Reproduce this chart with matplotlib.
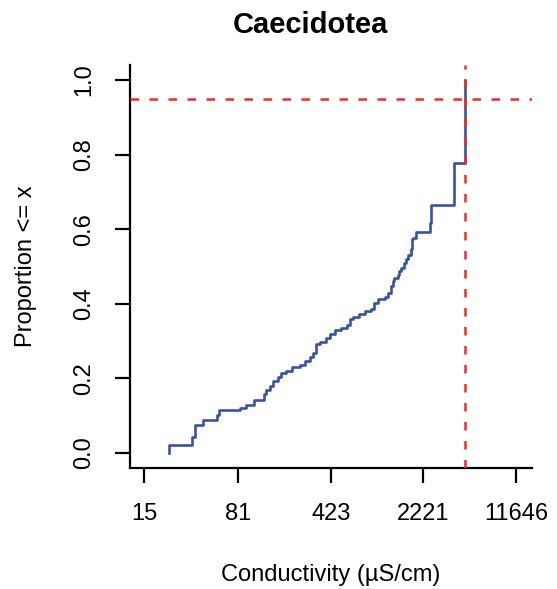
import matplotlib
matplotlib.use('Agg')
import matplotlib.pyplot as plt

cond = [23.6, 35.1, 37.3, 43.3, 54.9, 57.2, 84.2, 92.6, 107.5, 128.5,
        134, 142, 151, 165, 175, 190, 212, 243, 266, 290,
        308, 327, 347, 391, 415, 454, 511, 569, 600, 629,
        700, 775, 873, 926, 983, 1120, 1175, 1247, 1285, 1324,
        1405, 1447, 1491, 1582, 1630, 1680, 1782, 1815, 1858, 1949,
        2502, 2563, 3863, 4700]
prop = [0.022, 0.042, 0.076, 0.089, 0.103, 0.115, 0.121, 0.130, 0.143, 0.157,
        0.170, 0.181, 0.192, 0.204, 0.215, 0.219, 0.231, 0.237, 0.248, 0.257,
        0.268, 0.293, 0.297, 0.309, 0.320, 0.329, 0.335, 0.344, 0.360, 0.364,
        0.373, 0.380, 0.386, 0.403, 0.413, 0.418, 0.429, 0.447, 0.461, 0.470,
        0.476, 0.488, 0.497, 0.510, 0.521, 0.530, 0.546, 0.573, 0.577, 0.592,
        0.617, 0.666, 0.777, 1.0]

q95_x = 4700
q95_y = 0.95

xticks = [15, 81, 423, 2221, 11646]
yticks = [0.0, 0.2, 0.4, 0.6, 0.8, 1.0]

plt.rcParams['font.family'] = ['Liberation Sans', 'DejaVu Sans']

W, H = 557, 589
fig = plt.figure(figsize=(W / 100, H / 100), dpi=100)
ax = fig.add_axes([130 / W, 1 - 468 / H, 402 / W, 403 / H])

ax.plot([cond[0]] + cond, [0.0] + prop, drawstyle='steps-post',
        color='#3953a4', lw=1.9, zorder=2)
ax.axvline(q95_x, color='#f22a2a', lw=1.8, dashes=(3.4, 4.2), zorder=3)
ax.axhline(q95_y, color='#f22a2a', lw=1.8, dashes=(3.4, 4.2), zorder=3)

ax.set_xscale('log')
ax.set_xlim(10 ** 1.0675, 10 ** 4.19)
ax.set_ylim(-0.04, 1.04)
ax.set_xticks(xticks)
ax.set_xticklabels([str(v) for v in xticks])
ax.minorticks_off()
ax.set_yticks(yticks)
ax.set_yticklabels(['%.1f' % v for v in yticks], rotation=90, va='center')

for s in ['top', 'right']:
    ax.spines[s].set_visible(False)
for s in ['left', 'bottom']:
    ax.spines[s].set_linewidth(1.6)
ax.tick_params(axis='both', direction='out', length=11, width=1.6,
               labelsize=17, pad=14)

fig.text(331 / W, 1 - 581 / H, 'Conductivity (µS/cm)', ha='center',
         va='baseline', fontsize=17)
fig.text(32 / W, 1 - 266 / H, 'Proportion <= x', ha='center', va='baseline',
         rotation=90, fontsize=17, rotation_mode='anchor')
fig.text(310 / W, 1 - 33 / H, 'Caecidotea', ha='center', va='baseline',
         fontsize=21, fontweight='bold')

fig.savefig('out.png', dpi=100)
